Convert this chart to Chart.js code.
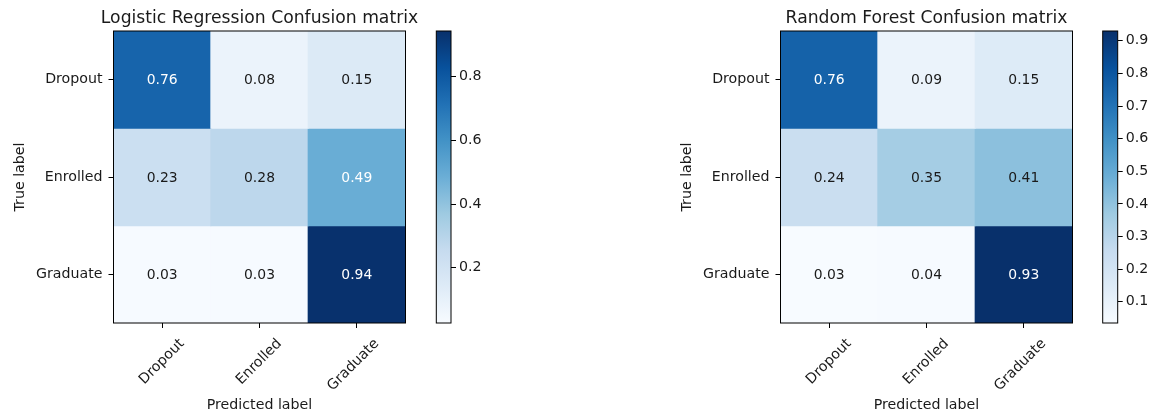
<!DOCTYPE html>
<html>
<head>
<meta charset="utf-8">
<title>Confusion matrices</title>
<script src="https://cdn.jsdelivr.net/npm/chart.js@4.4.1/dist/chart.umd.min.js"></script>
<style>
  html, body { margin: 0; padding: 0; background: #fff; }
  #page { position: relative; width: 1152px; height: 417px; overflow: hidden; }
  .panel { position: absolute; top: 0; }
  .panel canvas { display: block; }
</style>
</head>
<body>
<div id="page">
  <div class="panel" style="left:0px"><canvas id="lrMatrix" width="420" height="417"></canvas></div>
  <div class="panel" style="left:430px"><canvas id="lrBar" width="60" height="417"></canvas></div>
  <div class="panel" style="left:667.2px"><canvas id="rfMatrix" width="420" height="417"></canvas></div>
  <div class="panel" style="left:1096px"><canvas id="rfBar" width="56" height="417"></canvas></div>
</div>
<script>
// class names, used for both axes
const classLabels = ['Dropout', 'Enrolled', 'Graduate'];

// normalized confusion matrices, one row per true label
const lrValues = [
    [0.76, 0.08, 0.15],
    [0.23, 0.28, 0.49],
    [0.03, 0.03, 0.94]
];
const rfValues = [
    [0.76, 0.09, 0.15],
    [0.24, 0.35, 0.41],
    [0.03, 0.04, 0.93]
];

// colour limits and colorbar ticks
const lrColorRange = [0.026, 0.944];
const rfColorRange = [0.035, 0.93];
const lrBarTicks = [0.2, 0.4, 0.6, 0.8];
const rfBarTicks = [0.1, 0.2, 0.3, 0.4, 0.5, 0.6, 0.7, 0.8, 0.9];

// matplotlib "Blues" colormap control points
const bluesStops = ['#f7fbff', '#deebf7', '#c6dbef', '#9ecae1', '#6baed6', '#4292c6', '#2171b5', '#08519c', '#08306b'];

const FONT = 'DejaVu Sans';
const INK = '#1a1a1a';
Chart.defaults.font.family = FONT;
Chart.defaults.color = INK;

const hexToRgb = hex => [1, 3, 5].map(i => parseInt(hex.substr(i, 2), 16));

const bluesColor = (value, range) => {
    let t = (value - range[0]) / (range[1] - range[0]);
    t = Math.max(0, Math.min(1, t));
    const pos = t * (bluesStops.length - 1);
    const i = Math.min(Math.floor(pos), bluesStops.length - 2);
    const f = pos - i;
    const a = hexToRgb(bluesStops[i]);
    const b = hexToRgb(bluesStops[i + 1]);
    const c = a.map((v, k) => Math.round(v + (b[k] - v) * f));
    return `rgb(${c[0]}, ${c[1]}, ${c[2]})`;
};

// Draws a black frame around the plot area
const framePlugin = {
    id: 'frame',
    afterDatasetsDraw(chart) {
        const { ctx, chartArea: a } = chart;
        ctx.save();
        ctx.strokeStyle = '#000';
        ctx.lineWidth = 1;
        ctx.strokeRect(a.left, a.top, a.right - a.left, a.bottom - a.top);
        ctx.restore();
    }
};

// Title centred over the plot area; the built-in one squeezes text wider than the area
const axesTitlePlugin = {
    id: 'axesTitle',
    afterDraw(chart, args, opts) {
        if (!opts.text) return;
        const { ctx, chartArea: a } = chart;
        ctx.save();
        ctx.font = `17.2px "${FONT}"`;
        ctx.fillStyle = INK;
        ctx.textAlign = 'center';
        ctx.textBaseline = 'alphabetic';
        ctx.fillText(opts.text, (a.left + a.right) / 2, a.top - 8.5);
        ctx.restore();
    }
};

// Writes the value in the middle of each cell
const cellTextPlugin = {
    id: 'cellText',
    afterDatasetsDraw(chart, args, opts) {
        const values = opts.values;
        if (!values) return;
        const threshold = Math.max(...values.flat()) / 2;
        const { ctx } = chart;
        ctx.save();
        ctx.font = `13.9px "${FONT}"`;
        ctx.textAlign = 'center';
        ctx.textBaseline = 'middle';
        chart.data.datasets.forEach((ds, row) => {
            chart.getDatasetMeta(row).data.forEach((bar, col) => {
                const v = values[row][col];
                const p = bar.getCenterPoint();
                ctx.fillStyle = v > threshold ? '#fff' : INK;
                ctx.fillText(v.toFixed(2), p.x, p.y + 1);
            });
        });
        ctx.restore();
    }
};

const tickFont = { family: FONT, size: 14.2 };

const createMatrix = (canvasId, title, values, range) => {
    // each row is one dataset of floating bars spanning [row, row + 1]
    const datasets = values.map((rowValues, row) => ({
        data: rowValues.map(() => [row, row + 1]),
        backgroundColor: rowValues.map(v => bluesColor(v, range)),
        borderWidth: 0,
        inflateAmount: 0.5,
        grouped: false,
        barPercentage: 1,
        categoryPercentage: 1
    }));

    return new Chart(document.getElementById(canvasId), {
        type: 'bar',
        data: { labels: classLabels, datasets },
        options: {
            responsive: false,
            animation: false,
            layout: { padding: { left: 0, right: 14.5, top: 31, bottom: 0 } },
            plugins: {
                legend: { display: false },
                tooltip: { enabled: false },
                title: { display: false },
                axesTitle: { text: title },
                cellText: { values }
            },
            scales: {
                x: {
                    type: 'category',
                    offset: true,
                    grid: { offset: false, drawOnChartArea: false, tickLength: 5, color: '#000' },
                    border: { display: false },
                    ticks: { minRotation: 45, maxRotation: 45, labelOffset: 20, padding: 7.5, font: tickFont, color: INK },
                    afterFit: scale => { scale.height = 94; },
                    title: { display: true, text: 'Predicted label', font: tickFont, color: INK, padding: { top: 4, bottom: 3 } }
                },
                y: {
                    type: 'linear',
                    min: 0,
                    max: 3,
                    reverse: true,
                    afterBuildTicks: scale => {
                        scale.ticks = classLabels.map((_, i) => ({ value: i + 0.5 }));
                    },
                    afterFit: scale => { scale.width = 113.5; },
                    grid: { drawOnChartArea: false, tickLength: 5, color: '#000' },
                    border: { display: false },
                    ticks: { padding: 6, font: tickFont, color: INK, callback: (v, i) => classLabels[i] },
                    title: { display: true, text: 'True label', font: tickFont, color: INK, padding: { top: 12, bottom: 4 } }
                }
            }
        },
        plugins: [framePlugin, cellTextPlugin, axesTitlePlugin]
    });
};

const createColorbar = (canvasId, range, ticks, padLeft, axisWidth) => {
    const gradientFill = context => {
        const { ctx, chartArea } = context.chart;
        if (!chartArea) return bluesStops[4];
        const g = ctx.createLinearGradient(0, chartArea.bottom, 0, chartArea.top);
        bluesStops.forEach((c, i) => g.addColorStop(i / (bluesStops.length - 1), c));
        return g;
    };

    return new Chart(document.getElementById(canvasId), {
        type: 'bar',
        data: {
            labels: [''],
            datasets: [{
                data: [[range[0], range[1]]],
                backgroundColor: gradientFill,
                borderWidth: 0,
                barPercentage: 1,
                categoryPercentage: 1
            }]
        },
        options: {
            responsive: false,
            animation: false,
            layout: { padding: { left: padLeft, right: 0, top: 31, bottom: 94 } },
            plugins: { legend: { display: false }, tooltip: { enabled: false } },
            scales: {
                x: { display: false },
                y: {
                    position: 'right',
                    min: range[0],
                    max: range[1],
                    afterBuildTicks: scale => {
                        scale.ticks = ticks.map(v => ({ value: v }));
                    },
                    afterFit: scale => { scale.width = axisWidth; },
                    grid: { drawOnChartArea: false, tickLength: 5, color: '#000' },
                    border: { display: false },
                    ticks: { padding: 3, font: tickFont, color: INK, callback: v => v.toFixed(1) }
                }
            }
        },
        plugins: [framePlugin]
    });
};

createMatrix('lrMatrix', 'Logistic Regression Confusion matrix', lrValues, lrColorRange);
createColorbar('lrBar', lrColorRange, lrBarTicks, 6.3, 39);
createMatrix('rfMatrix', 'Random Forest Confusion matrix', rfValues, rfColorRange);
createColorbar('rfBar', rfColorRange, rfBarTicks, 6.7, 34.3);
</script>
</body>
</html>
